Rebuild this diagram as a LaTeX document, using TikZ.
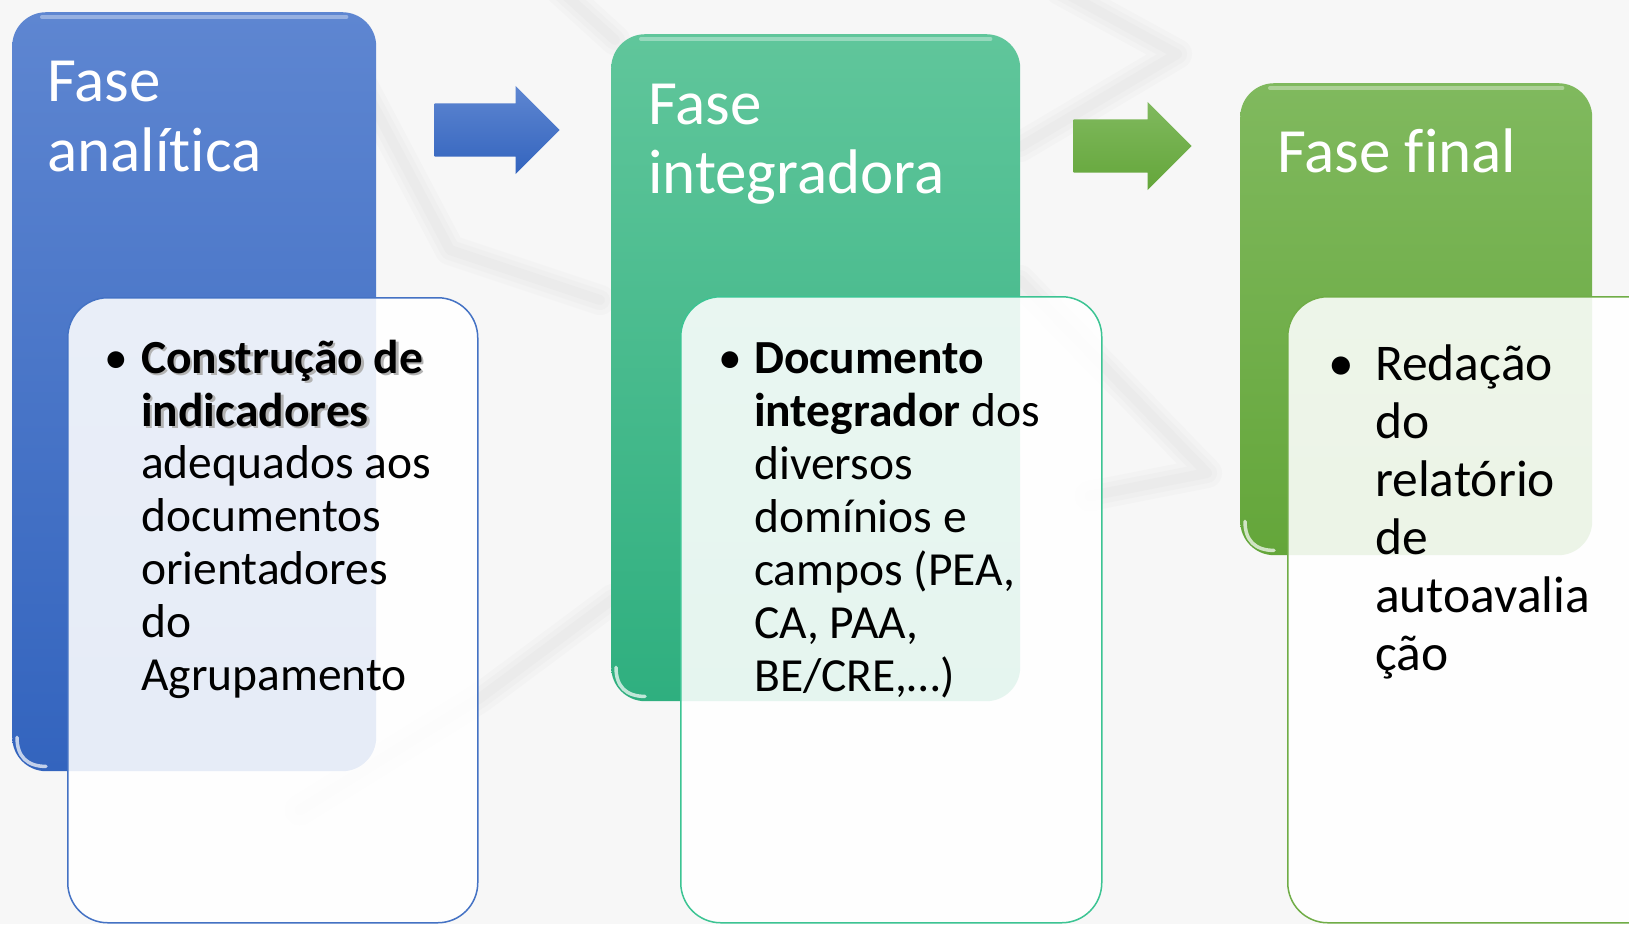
\documentclass[tikz,border=0pt]{standalone}
\usepackage{fontspec}
\setmainfont{Carlito}[Ligatures={NoCommon}]
\usepackage{xcolor}
\usetikzlibrary{shapes.arrows, positioning}

\definecolor{bgGray}{HTML}{F7F7F7}
\definecolor{swoosh}{HTML}{B4B4B4}
\definecolor{anaTop}{HTML}{5E86D1}
\definecolor{anaBot}{HTML}{3364BE}
\definecolor{intTop}{HTML}{60C69B}
\definecolor{intBot}{HTML}{2FAF7F}
\definecolor{finTop}{HTML}{80B95E}
\definecolor{finBot}{HTML}{64A63A}
\definecolor{anaLine}{HTML}{4472C4}
\definecolor{intLine}{HTML}{3CC493}
\definecolor{finLine}{HTML}{70AD47}

\newcommand{\shadowed}[1]{\rlap{\kern2.5pt\raisebox{-2.5pt}{\color{black!30}#1}}#1}

\tikzset{
  phase/.style     = {rectangle, rounded corners=34pt, inner sep=0pt, anchor=north west},
  detail/.style    = {rectangle, rounded corners=40pt, inner sep=0pt, anchor=north west,
                      fill=white, fill opacity=0.88, line width=1.5pt},
  headline/.style  = {anchor=base west, inner sep=0pt, text=white, font=\fontsize{63}{70}\selectfont},
  bodytxt/.style   = {anchor=base west, inner sep=0pt, text=black, font=\fontsize{47.5}{53}\selectfont},
  bigtxt/.style    = {anchor=base west, inner sep=0pt, text=black, font=\fontsize{51.5}{58}\selectfont},
  dot/.style       = {anchor=base, inner sep=0pt, text=black},
  flowarrow/.style = {single arrow, single arrow head extend=17.5pt, inner sep=0pt,
                      text height=53pt, text depth=0pt, text width=0pt, anchor=tip},
  gloss/.style     = {white, opacity=0.35, line width=4pt, line cap=round},
  shine/.style     = {white, opacity=0.7, line width=3.5pt, line cap=round}
}

\begin{document}
\begin{tikzpicture}[x=1pt, y=-1pt]
    \useasboundingbox (0,0) rectangle (1629,924);
    \clip (0,0) rectangle (1629,924);
    \fill[bgGray] (0,0) rectangle (1629,924);

    % faint background zigzag, soft edges
    \foreach \w in {30,20,10} {
        \begin{scope}[swoosh, opacity=0.06, line width=\w pt, line cap=round, line join=round]
            \draw (560,-10) -- (615,40);
            \draw (360,80) -- (450,250) -- (600,300);
            \draw (300,810) -- (480,698) -- (613,599);
            \draw (1060,-10) -- (1177,54) -- (1020,147);
            \draw (1020,280) -- (1207,473) -- (1090,496);
        \end{scope}
    }

    % phase boxes
    \node (ana) at (12,12)   [phase, minimum width=364, minimum height=759, top color=anaTop, bottom color=anaBot] {};
    \node (int) at (611,34)  [phase, minimum width=409, minimum height=667, top color=intTop, bottom color=intBot] {};
    \node (fin) at (1240,83) [phase, minimum width=352, minimum height=472, top color=finTop, bottom color=finBot] {};

    \foreach \b in {ana,int,fin} {
        \draw[gloss] ([xshift=30pt,yshift=-5pt]\b.north west) -- ([xshift=-30pt,yshift=-5pt]\b.north east);
        \draw[shine] ([shift={(5,-34)}]\b.south west) .. controls ([shift={(5,-15)}]\b.south west)
            and ([shift={(15,-5)}]\b.south west) .. ([shift={(34,-5)}]\b.south west);
    }

    % arrows between phases
    \node (arr1) at (560,130)  [flowarrow, minimum height=125, top color=anaTop, bottom color=anaBot] {};
    \node (arr2) at (1192,146) [flowarrow, minimum height=118, top color=finTop, bottom color=finBot] {};

    % titles
    \node (ana-t1) at (47,101)   [headline] {Fase};
    \node (ana-t2) at (47,171)   [headline] {analítica};
    \node (int-t1) at (648,124)  [headline] {Fase};
    \node (int-t2) at (648,193)  [headline] {integradora};
    \node (fin-t1) at (1277,172) [headline] {Fase final};

    % detail boxes
    \node (ana-d) at (67,297)   [detail, draw=anaLine, minimum width=410, minimum height=625] {};
    \node (int-d) at (680,296)  [detail, draw=intLine, minimum width=421, minimum height=626] {};
    \node (fin-d) at (1287,296) [detail, draw=finLine, minimum width=400, minimum height=626] {};

    % analitica text
    \node (ana-dot) at (116.5,373) [dot, font=\fontsize{47.5}{53}\selectfont] {•};
    \node (ana-b1) at (141,373) [bodytxt] {\bfseries\shadowed{Construção de}};
    \node (ana-b2) at (141,426) [bodytxt] {\bfseries\shadowed{indicadores}};
    \foreach \txt [count=\i from 0] in {{adequados aos}, documentos, orientadores, do, Agrupamento}
        \node (ana-\i) at (141,478+53*\i) [bodytxt] {\txt};

    % integradora text
    \node (int-dot) at (730,373) [dot, font=\fontsize{47.5}{53}\selectfont] {•};
    \node (int-b1) at (754,373) [bodytxt] {\bfseries Documento};
    \node (int-b2) at (754,426) [bodytxt] {\textbf{integrador} dos};
    \foreach \txt [count=\i from 0] in {diversos, {domínios e}, {campos (PEA,}, {CA, PAA,}, {BE/CRE,…)}}
        \node (int-\i) at (754,479+53*\i) [bodytxt] {\txt};

    % final text
    \node (fin-dot) at (1341,380) [dot, font=\fontsize{51.5}{58}\selectfont] {•};
    \foreach \txt [count=\i from 0] in {Redação, do, relatório, de, autoavalia, ção}
        \node (fin-\i) at (1375,380+58*\i) [bigtxt] {\txt};
\end{tikzpicture}
\end{document}
